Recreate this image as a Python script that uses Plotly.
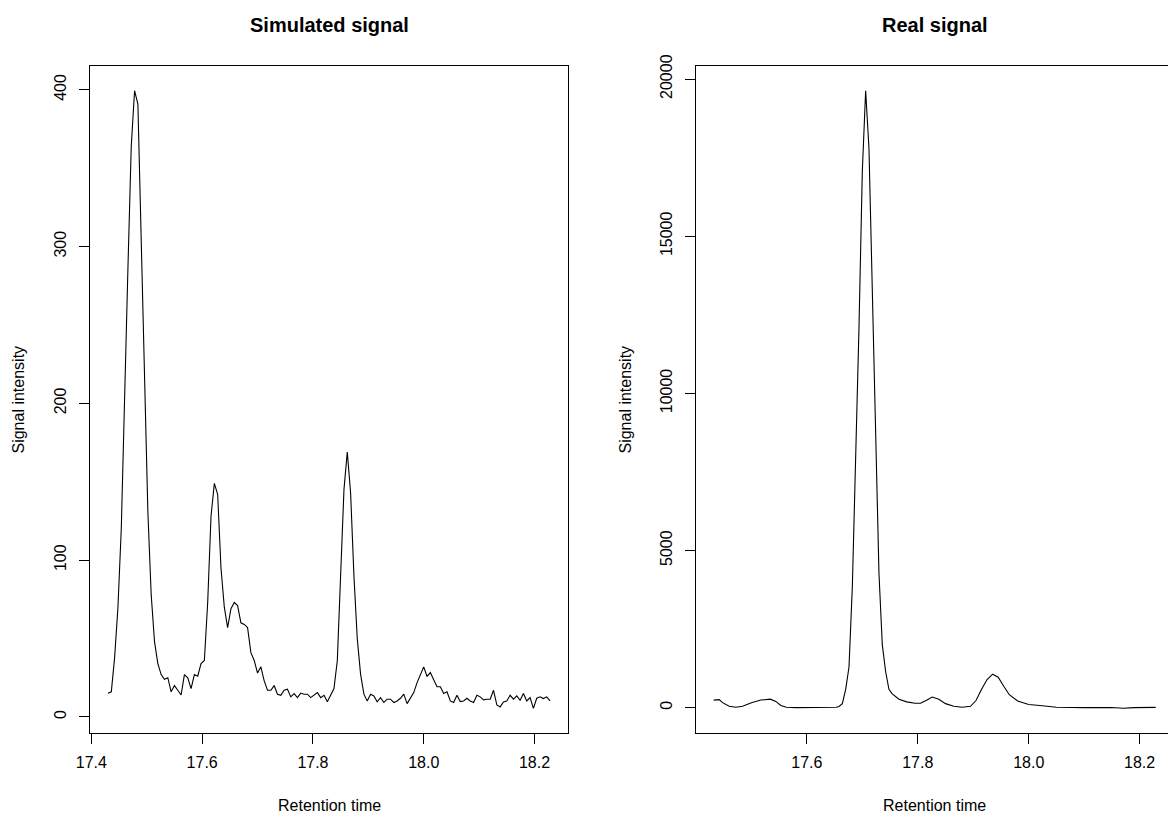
import plotly.graph_objects as go

# ---------------- data ----------------
sim_time = [
    17.430, 17.436, 17.442, 17.448, 17.454, 17.460, 17.466, 17.472, 17.478, 17.484,
    17.490, 17.496, 17.502, 17.508, 17.514, 17.520, 17.526, 17.532, 17.538, 17.544,
    17.550, 17.556, 17.562, 17.568, 17.574, 17.580, 17.586, 17.592, 17.598, 17.604,
    17.610, 17.616, 17.622, 17.628, 17.634, 17.640, 17.646, 17.652, 17.658, 17.664,
    17.670, 17.676, 17.682, 17.688, 17.694, 17.700, 17.706, 17.712, 17.718, 17.724,
    17.730, 17.736, 17.742, 17.748, 17.754, 17.760, 17.766, 17.772, 17.778, 17.784,
    17.790, 17.796, 17.802, 17.808, 17.814, 17.820, 17.826, 17.832, 17.838, 17.844,
    17.850, 17.856, 17.862, 17.868, 17.874, 17.880, 17.886, 17.892, 17.898, 17.904,
    17.910, 17.916, 17.922, 17.928, 17.934, 17.940, 17.946, 17.952, 17.958, 17.964,
    17.970, 17.976, 17.982, 17.988, 17.994, 18.000, 18.006, 18.012, 18.018, 18.024,
    18.030, 18.036, 18.042, 18.048, 18.054, 18.060, 18.066, 18.072, 18.078, 18.084,
    18.090, 18.096, 18.102, 18.108, 18.114, 18.120, 18.126, 18.132, 18.138, 18.144,
    18.150, 18.156, 18.162, 18.168, 18.174, 18.180, 18.186, 18.192, 18.198, 18.204,
    18.210, 18.216, 18.222, 18.228,
]
sim_intensity = [
    15.1, 16.0, 38.0, 70.0, 120.0, 195.0, 286.0, 364.0, 399.5, 391.0,
    300.0, 209.0, 131.0, 78.0, 48.0, 34.0, 27.0, 24.0, 25.0, 16.0,
    20.0, 17.0, 14.0, 27.0, 25.0, 18.0, 27.0, 26.0, 34.0, 36.0,
    73.0, 128.0, 149.0, 142.0, 95.0, 70.0, 57.0, 69.0, 73.0, 71.0,
    60.0, 59.0, 57.0, 41.0, 36.0, 28.0, 32.0, 23.0, 17.0, 17.0,
    20.0, 14.5, 13.8, 17.0, 17.7, 12.8, 14.9, 12.3, 15.2, 14.5,
    14.5, 12.3, 13.8, 15.5, 12.3, 13.8, 9.6, 13.5, 18.1, 36.0,
    89.0, 145.0, 169.0, 143.0, 90.0, 50.0, 27.3, 14.5, 10.2, 14.5,
    13.4, 9.6, 12.3, 9.2, 11.3, 11.3, 9.2, 10.2, 11.9, 14.5,
    8.5, 11.7, 15.5, 21.9, 27.3, 31.9, 25.8, 28.3, 23.7, 19.2,
    19.2, 14.9, 16.0, 10.2, 9.2, 13.8, 9.8, 10.2, 11.9, 10.2,
    9.2, 13.8, 12.8, 10.9, 11.3, 11.3, 17.0, 7.7, 6.4, 9.6,
    10.2, 13.8, 11.3, 13.4, 10.6, 14.9, 10.2, 12.3, 5.5, 11.9,
    12.8, 11.7, 12.8, 10.2,
]

real_time = [
    17.432, 17.442, 17.448, 17.460, 17.472, 17.484, 17.500, 17.517, 17.534, 17.544,
    17.553, 17.563, 17.580, 17.607, 17.633, 17.653, 17.658, 17.664, 17.670, 17.676,
    17.682, 17.688, 17.694, 17.700, 17.706, 17.712, 17.718, 17.724, 17.730, 17.736,
    17.742, 17.748, 17.754, 17.766, 17.780, 17.795, 17.805, 17.815, 17.826, 17.838,
    17.850, 17.865, 17.880, 17.895, 17.905, 17.915, 17.925, 17.935, 17.945, 17.955,
    17.965, 17.980, 18.000, 18.020, 18.050, 18.100, 18.150, 18.170, 18.190, 18.229,
]
real_intensity = [
    240, 256, 160, 45, 14, 45, 156, 242, 270, 200,
    71, 14, 0, 0, 0, 14, 40, 128, 583, 1294,
    3852, 7832, 12097, 17072, 19631, 17783, 13234, 8117, 4279, 2004,
    1151, 583, 441, 270, 185, 142, 142, 227, 340, 270,
    128, 43, 14, 43, 227, 583, 896, 1066, 967, 682,
    412, 213, 100, 71, 14, 0, 5, -20, 0, 10,
]

sim_xticks = [17.4, 17.6, 17.8, 18.0, 18.2]
sim_xticklabels = ["17.4", "17.6", "17.8", "18.0", "18.2"]
sim_yticks = [0, 100, 200, 300, 400]
sim_yticklabels = ["0", "100", "200", "300", "400"]
real_xticks = [17.6, 17.8, 18.0, 18.2]
real_xticklabels = ["17.6", "17.8", "18.0", "18.2"]
real_yticks = [0, 5000, 10000, 15000, 20000]
real_yticklabels = ["0", "5000", "10000", "15000", "20000"]

titles = ["Simulated signal", "Real signal"]
x_label = "Retention time"
y_label = "Signal intensity"

# ---------------- layout helpers ----------------
W, H = 1168, 816
FONT = "Liberation Sans, Arial, Helvetica, sans-serif"


def r_range(vals):
    lo, hi = min(vals), max(vals)
    pad = 0.04 * (hi - lo)
    return [lo - pad, hi + pad]


left_box = (90.3, 567.7)
right_left = 696.0
box_w = left_box[1] - left_box[0]
top_px, bot_px = 66.0, 733.0

sx = r_range(sim_time)
sy = r_range(sim_intensity)
rx_full = r_range(real_time)
ry = r_range(real_intensity)
# the right panel runs past the page edge: clip range at the page border
rx = [rx_full[0], rx_full[0] + (W - right_left) / box_w * (rx_full[1] - rx_full[0])]

ydom = [1 - bot_px / H, 1 - top_px / H]

fig = go.Figure()
fig.add_trace(go.Scatter(x=sim_time, y=sim_intensity, mode="lines",
                         line=dict(color="black", width=1.1), xaxis="x", yaxis="y",
                         showlegend=False))
fig.add_trace(go.Scatter(x=real_time, y=real_intensity, mode="lines",
                         line=dict(color="black", width=1.1), xaxis="x2", yaxis="y2",
                         showlegend=False))

tickfont = dict(family=FONT, size=16, color="black")
common = dict(showgrid=False, zeroline=False, ticks="outside", ticklen=10,
              tickwidth=1, tickcolor="black", showline=True, linecolor="black",
              linewidth=1, tickfont=tickfont, automargin=False)

fig.update_layout(
    width=W, height=H,
    margin=dict(l=0, r=0, t=0, b=0, pad=0, autoexpand=False),
    paper_bgcolor="white", plot_bgcolor="white",
    xaxis=dict(domain=[left_box[0] / W, left_box[1] / W], range=sx,
               tickvals=sim_xticks, ticktext=sim_xticklabels,
               anchor="y", mirror=True, ticklabelstandoff=5, **common),
    yaxis=dict(domain=ydom, range=sy, tickvals=sim_yticks, ticktext=sim_yticklabels,
               anchor="x", mirror=True, tickangle=-90, ticklabelstandoff=7, **common),
    xaxis2=dict(domain=[right_left / W, 1.0], range=rx,
                tickvals=real_xticks, ticktext=real_xticklabels,
                anchor="y2", mirror=True, ticklabelstandoff=5, **common),
    yaxis2=dict(domain=ydom, range=ry, tickvals=real_yticks, ticktext=real_yticklabels,
                anchor="x2", mirror=False, tickangle=-90, ticklabelstandoff=7, **common),
)

centers = [(left_box[0] + left_box[1]) / 2, right_left + box_w / 2]
ylab_x = [18, 625]
mid_y = (top_px + bot_px) / 2

for i in range(2):
    fig.add_annotation(text="<b>%s</b>" % titles[i], x=centers[i] / W, y=1 - 25 / H,
                       xref="paper", yref="paper", showarrow=False,
                       xanchor="center", yanchor="middle",
                       font=dict(family=FONT, size=20, color="black"))
    fig.add_annotation(text=x_label, x=centers[i] / W, y=1 - 805 / H,
                       xref="paper", yref="paper", showarrow=False,
                       xanchor="center", yanchor="middle",
                       font=dict(family=FONT, size=16, color="black"))
    fig.add_annotation(text=y_label, x=ylab_x[i] / W, y=1 - mid_y / H,
                       xref="paper", yref="paper", showarrow=False, textangle=-90,
                       xanchor="center", yanchor="middle",
                       font=dict(family=FONT, size=16, color="black"))

fig.write_html("out.html")
